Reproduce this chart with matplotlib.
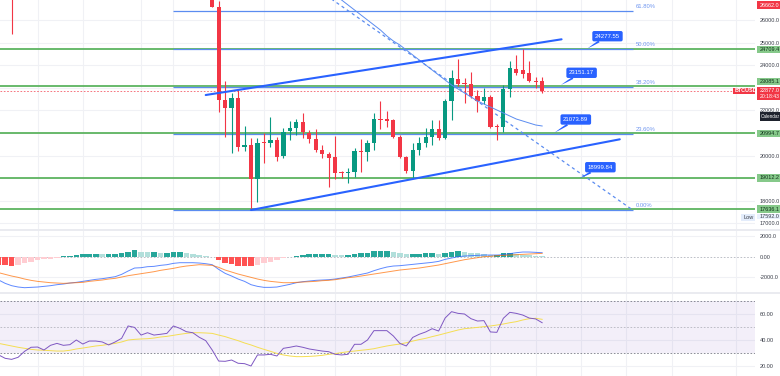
import numpy as np
import matplotlib
matplotlib.use('Agg')
import matplotlib.pyplot as plt
import matplotlib.transforms as mtransforms
from matplotlib.patches import Rectangle
from matplotlib.ticker import FormatStrFormatter

plt.rcParams['font.family'] = ['Liberation Sans', 'DejaVu Sans']

W, H = 780, 376

# ---- BTCUSD daily, day 0 = 12 Jun 2022 (first bar = day -33) ----
first_day = -33
opens = [30080, 31017, 29100, 29050, 29300, 30100, 31300, 29870, 30420, 28700, 30290, 29180, 29430,
         30280, 29100, 29650, 29540, 29200, 28620, 29020, 29450, 31720, 31790, 29800, 30450, 29700,
         29860, 29900, 31370, 31130, 30200, 30110, 29090,
         28400, 26590, 22470, 22100, 22540, 20390, 20450, 18955, 20560, 20545, 20690, 19975, 21100,
         21230, 21475, 20985, 20735, 20240, 20070, 19950, 19240, 19230, 19275, 20215, 20170, 20545,
         21625, 21600, 21580, 20840, 19920, 19330, 20240, 20570, 20820, 21170, 20770, 22430, 23380,
         23190, 23155, 22640, 22430, 22580, 21285, 21260, 22950, 23820, 23790, 23670, 23305, 23305]
highs = [32650, 32140, 30030, 30990, 30300, 31400, 31320, 31000, 30680, 30500, 30750, 29600, 30450,
         30650, 29800, 30200, 29850, 29380, 29200, 29520, 32200, 32400, 31950, 30650, 30650, 29950,
         30150, 31826, 31560, 31330, 30700, 30380, 29440,
         28550, 26860, 23310, 22770, 22940, 21315, 20770, 20770, 21015, 21700, 20840, 21210, 21530,
         21610, 21875, 21135, 21160, 20470, 20170, 20870, 19330, 19440, 20320, 20720, 20690, 21875,
         22420, 21990, 21640, 20930, 19970, 20570, 20840, 21210, 21580, 21580, 22490, 23790, 24277.55,
         23425, 23715, 22905, 23010, 22660, 21400, 23130, 24190, 24455, 24700, 24205, 23470, 23470]
lows = [29730, 27700, 25400, 28700, 28650, 29500, 29100, 29500, 28650, 28650, 28740, 28950, 29250,
        28900, 28650, 29300, 28000, 28260, 28550, 28840, 29300, 31250, 29300, 29600, 29300, 29500,
        29500, 29850, 29250, 29850, 29950, 28850, 28100,
        26560, 21950, 20840, 20100, 20220, 20220, 17592, 17955, 19665, 20395, 19770, 19880, 20690,
        20915, 20770, 20540, 20170, 19880, 18600, 18955, 19000, 18775, 19040, 19290, 19775, 20240,
        21165, 21285, 20790, 19880, 19210, 19000, 20025, 20395, 20470, 20690, 20750, 21580, 23080,
        22340, 22535, 21950, 22270, 21235, 20690, 21060, 22610, 23550, 23425, 23270, 22980, 22780]
closes = [31017, 29100, 29050, 29300, 30100, 31300, 29870, 30420, 28700, 30290, 29180, 29430, 30280,
          29100, 29650, 29540, 29200, 28620, 29020, 29450, 31720, 31790, 29800, 30450, 29700, 29860,
          29900, 31370, 31130, 30200, 30110, 29090, 28400,
          26590, 22470, 22100, 22540, 20390, 20450, 18955, 20545, 20540, 20690, 19945, 21060, 21210,
          21475, 21030, 20720, 20240, 20070, 19900, 19240, 19215, 19275, 20215, 20170, 20570, 21625,
          21580, 21545, 20840, 19920, 19330, 20240, 20570, 20840, 21195, 20770, 22430, 23425, 23155,
          23155, 22640, 22430, 22580, 21285, 21255, 22950, 23865, 23640, 23610, 23315, 23270, 22877]

# moving average drawn on price (days 19..51)
ma_first_day = 19
ma_values = [27100, 26885, 26664, 26443, 26221, 26000, 25779, 25558, 25292, 25071, 24894, 24673,
             24451, 24230, 24009, 23788, 23566, 23345, 23124, 22947, 22770, 22593, 22416, 22283,
             22150, 22018, 21885, 21752, 21619, 21531, 21442, 21354, 21310]

# MACD (12, 26, 9)
macd_line = [-2254, -2576, -2801, -2930, -2995, -2962, -2930, -2866, -2801, -2705, -2640, -2544, -2479,
             -2383, -2286, -2190, -2125, -2029, -1932, -1707, -1385, -1095, -1063, -966, -934, -837,
             -773, -644, -580, -580, -580, -612, -676,
             -773, -1224, -1610, -1868, -2157, -2383, -2705, -2866, -2962, -2962, -2930, -2801, -2673,
             -2512, -2415, -2351, -2286, -2254, -2222, -2157, -2061, -1964, -1835, -1707, -1578, -1352,
             -1159, -998, -902, -869, -805, -741, -676, -612, -547, -451, -258, -129, 0,
             64, 97, 129, 161, 161, 161, 193, 290, 386, 451, 451, 419, 386]
signal_line = [-1546, -1707, -1868, -1996, -2157, -2286, -2383, -2447, -2512, -2544, -2576, -2544, -2512,
               -2479, -2383, -2318, -2254, -2157, -2093, -1964, -1835, -1739, -1642, -1546, -1449, -1320,
               -1224, -1127, -998, -902, -837, -773, -805,
               -837, -1030, -1288, -1481, -1674, -1835, -1996, -2157, -2286, -2383, -2447, -2512, -2512,
               -2479, -2447, -2415, -2383, -2318, -2286, -2222, -2125, -2029, -1964, -1868, -1771, -1674,
               -1578, -1481, -1385, -1288, -1224, -1159, -1095, -998, -902, -805, -676, -547, -419,
               -290, -193, -97, 0, 32, 97, 129, 161, 193, 225, 258, 290, 322]
macd_hist = [-805, -837, -902, -805, -644, -483, -322, -225, -193, -97, 32, 97, 193,
             225, 258, 258, 225, 258, 258, 386, 483, 644, 483, 419, 419, 386,
             386, 419, 451, 322, 258, 193, 64,
             -64, -322, -644, -741, -902, -920, -935, -773, -644, -483, -322, -161, -64,
             64, 193, 225, 225, 225, 225, 161, 129, 193, 258, 322, 386, 515,
             547, 547, 483, 386, 258, 258, 270, 322, 322, 258, 386, 483, 547,
             451, 386, 322, 258, 193, 193, 322, 322, 258, 161, 129, 97, 64]

# RSI (14) and its moving average
rsi = [28.5, 25.9, 25.1, 26.7, 31.3, 34.4, 34.6, 32.3, 35.9, 37.4, 35.9, 36.4, 40.0, 36.9, 39.2, 39.2,
       38.5, 36.2, 38.5, 41.3, 50.8, 49.7, 43.8, 45.6, 43.8, 44.4, 45.1, 50.8, 49.0, 46.4, 45.6, 42.1, 39.5,
       32.3, 23.8, 23.6, 24.6, 22.1, 21.8, 20.0, 28.5, 28.5, 29.0, 27.7, 33.6, 34.4, 35.4, 34.4, 33.1,
       32.3, 31.5, 31.0, 29.0, 28.5, 29.0, 36.7, 36.7, 40.0, 47.2, 47.2, 47.2, 43.1, 37.4, 35.4, 42.0,
       44.4, 46.2, 48.7, 46.9, 56.9, 61.8, 60.5, 60.0, 56.4, 54.6, 54.9, 46.2, 45.9, 56.7, 61.3, 60.5,
       59.2, 56.9, 56.2, 53.3]
rsi_ma = [37.4, 36.4, 35.4, 34.4, 33.6, 32.8, 32.3, 32.1, 31.8, 31.5, 31.5, 32.1, 33.1, 33.8, 34.6, 35.4,
          35.9, 36.7, 37.4, 38.5, 40.0, 40.5, 40.8, 41.0, 41.5, 42.3, 42.8, 43.6, 44.4, 45.1, 45.6, 45.6, 45.4,
          45.1, 43.8, 42.6, 41.0, 39.5, 37.7, 36.2, 34.4, 32.8, 31.3, 29.7, 28.5, 27.7, 27.2, 27.2, 27.4,
          27.7, 28.2, 29.0, 29.5, 30.3, 31.0, 31.5, 32.1, 32.6, 33.3, 34.4, 35.4, 36.2, 36.9, 37.9, 39.2,
          40.3, 41.3, 42.6, 43.8, 45.1, 46.4, 47.7, 48.7, 49.2, 49.7, 50.3, 50.8, 51.5, 52.3, 53.3, 54.1,
          55.4, 56.4, 56.7, 55.9]

# horizontal levels, fib, drawings
levels = [24709.4, 23085.1, 20994.7, 19012.2, 17636.1]
level_tags = ['24709.4', '23085.1', '20994.7', '19012.2', '17636.1']
level_tag_shift = [0, 4.4, 0, 0, 0]
fib_high, fib_low = 31826, 17592
fib_ratios = [0.618, 0.5, 0.382, 0.236, 0.0]
fib_names = ['61.80%', '50.00%', '38.20%', '23.60%', '0.00%']
fib_days = (-6, 65)
channel_upper = ((-1, 22681), (54, 25146))
channel_lower = ((6, 17592), (63, 20721))
callouts = [('24277.55', (61.1, 25283), (58.0, 24739)),
            ('23151.17', (57.1, 23664), (53.9, 23124)),
            ('21073.89', (56.2, 21597), (52.9, 21013)),
            ('18999.84', (60.0, 19486), (56.8, 18995))]
last_price = 22877.0
week_days = [-27, -20, -11, -6, 1, 8, 19, 29, 36, 43, 50, 57, 64, 71, 81]
price_ticks = [17000, 18000, 20000, 22000, 24000, 25000, 26000]
price_grid = list(range(17000, 27000, 1000))
macd_ticks = [2000, 0, -2000]
macd_tick_labels = ['2000.0', '0.00', '-2000.0']
rsi_ticks = [60, 40, 20]

days = np.arange(first_day, first_day + len(closes))
o, h, l, c = map(np.array, (opens, highs, lows, closes))

UP, DOWN = '#089981', '#F23645'
GRID = '#F0F1F5'
TXT = '#3B3F4A'
AX_FS = 4.0

fig = plt.figure(figsize=(W / 100, H / 100), dpi=100)
fig.patch.set_facecolor('white')


def pane(top, bottom):
    return fig.add_axes([0, 1 - bottom / H, 755 / W, (bottom - top) / H])


ax = pane(0, 229)
axm = pane(231, 292)
axr = pane(294, 376)

for a in (ax, axm, axr):
    a.set_xlim(-32.8, 83.9)
    for s in a.spines.values():
        s.set_visible(False)
    a.set_xticks([])
    a.yaxis.tick_right()
    a.tick_params(axis='y', length=0, pad=3.6, labelsize=AX_FS, labelcolor=TXT)
    for d in week_days:
        a.axvline(d, color=GRID, lw=0.8, zorder=0)

ax.set_ylim(16752, 26885)
axm.set_ylim(-3411, 2483)
axr.set_ylim(12.3, 75.4)

# pane separators
for ysep in (230, 293):
    fig.add_artist(plt.Line2D([0, 1], [1 - ysep / H] * 2, color='#E6E8EE', lw=1.2))

# ---------------- price pane ----------------
ax.set_yticks(price_ticks)
ax.yaxis.set_major_formatter(FormatStrFormatter('%.1f'))
for p in price_grid:
    ax.axhline(p, color=GRID, lw=0.8, zorder=0)
for lv in levels:
    ax.axhline(lv, color='#5DB460', lw=1.3, zorder=1)

fib_prices = [fib_low + r * (fib_high - fib_low) for r in fib_ratios]
ax.hlines(fib_prices, *fib_days, color='#5B8CF0', lw=0.9, zorder=1.5)
for fp, name in zip(fib_prices, fib_names):
    ax.text(fib_days[1] + 0.5, fp + 80, name, color='#6F96F0', fontsize=4.2, va='bottom', ha='left')
ax.plot(fib_days, [fib_high, fib_low], color='#5B8CF0', lw=0.9, ls=(0, (2.5, 2.5)), zorder=1.5)

ax.axhline(last_price, color=DOWN, lw=0.6, ls=(0, (2, 2)), alpha=0.8, zorder=1)

colors = np.where(c >= o, UP, DOWN)
ax.vlines(days, l, h, color=colors, lw=0.8, zorder=3)
body_low = np.minimum(o, c)
body_h = np.maximum(np.abs(c - o), 45)
ax.bar(days, body_h, bottom=body_low, width=0.66, color=colors, zorder=3.5, linewidth=0)

ma_days = np.arange(ma_first_day, ma_first_day + len(ma_values))
ax.plot(ma_days, ma_values, color='#5B8CF0', lw=0.7, zorder=4)

for (x0, y0), (x1, y1) in (channel_upper, channel_lower):
    ax.plot([x0, x1], [y0, y1], color='#2962FF', lw=1.5, zorder=4.5, solid_capstyle='round')

for txt, (bx, by), (tx, ty) in callouts:
    ax.annotate(txt, xy=(tx, ty), xytext=(bx, by), fontsize=4.3, color='white', ha='center', va='center',
                zorder=6,
                bbox=dict(boxstyle='round,pad=0.45,rounding_size=0.3', fc='#2962FF', ec='none'),
                arrowprops=dict(arrowstyle='wedge,tail_width=0.35,shrink_factor=0.6', fc='#2962FF',
                                ec='none', shrinkA=0, shrinkB=0))


def tag(axis, val, text, fc, tc, x0=757, x1=782, up=3.6, down=3.6, dy=0, tx=None, fs=AX_FS,
        weight='normal'):
    y0, y1 = axis.get_ylim()
    pos = axis.get_position()
    vpp = (y1 - y0) / (pos.height * H)
    yc = val + dy * vpp
    tr = mtransforms.blended_transform_factory(fig.transFigure, axis.transData)
    axis.add_patch(Rectangle((x0 / W, yc - down * vpp), (x1 - x0) / W, (up + down) * vpp,
                             transform=tr, fc=fc, ec='none', clip_on=False, zorder=8))
    axis.text((tx if tx is not None else x0 + 2.5) / W, yc, text, transform=tr, color=tc, fontsize=fs,
              va='center', ha='left', clip_on=False, zorder=9, fontweight=weight)
    return vpp, tr


tag(ax, 26662.0, '26662.0', DOWN, 'white')
for lv, t, s in zip(levels, level_tags, level_tag_shift):
    tag(ax, lv, t, '#86C98A', '#10331A', dy=s)
vpp, tr = tag(ax, last_price, '22877.0', DOWN, 'white', up=3.3, down=9.5)
ax.text(759.5 / W, last_price - 6.3 * vpp, '20:18:43', transform=tr, color='white', fontsize=3.7,
        va='center', ha='left', clip_on=False, zorder=9)
tag(ax, last_price, 'BTCUSD', DOWN, 'white', x0=733, x1=755, up=3.0, down=3.0, tx=735, fs=3.9,
    weight='bold')
tag(ax, fib_low, '17592.0', '#EAF1FD', '#3B3F4A', up=2.6, down=2.6, dy=-6.7)
tag(ax, fib_low, 'Low', '#E3ECFB', '#3B3F4A', x0=741, x1=755, up=3.6, down=3.6, dy=-7.4, tx=743)

# toolbar tooltip
fig.add_artist(Rectangle((760 / W, 1 - 120.7 / H), 22 / W, 8.7 / H, transform=fig.transFigure,
                         fc='#1E222D', ec='none'))
fig.text(761 / W, 1 - 116.3 / H, 'Calendar', color='white', fontsize=3.3, va='center', ha='left')

# ---------------- MACD pane ----------------
axm.set_yticks(macd_ticks)
axm.set_yticklabels(macd_tick_labels)
for v in (2000, -2000):
    axm.axhline(v, color=GRID, lw=0.8, zorder=0)
axm.axhline(0, color='#B2B5BE', lw=0.6, ls=(0, (2, 2)), zorder=0.5)
hist = np.array(macd_hist)
prev = np.concatenate([[hist[0]], hist[:-1]])
hcol = np.where(hist >= 0, np.where(hist >= prev, '#26A69A', '#B2DFDB'),
                np.where(hist <= prev, '#FF5252', '#FFCDD2'))
axm.bar(days, hist, width=0.86, color=hcol, linewidth=0, zorder=1)
axm.plot(days, macd_line, color='#2962FF', lw=0.7, alpha=0.75, zorder=2)
axm.plot(days, signal_line, color='#FF6D00', lw=0.7, alpha=0.7, zorder=2)

# ---------------- RSI pane ----------------
axr.set_yticks(rsi_ticks)
axr.yaxis.set_major_formatter(FormatStrFormatter('%.2f'))
for v in (60, 40, 20):
    axr.axhline(v, color=GRID, lw=0.8, zorder=0)
axr.axhspan(30, 70, color='#7E57C2', alpha=0.09, lw=0, zorder=0.2)
axr.axhline(70, color='#787B86', lw=0.6, ls=(0, (2, 2)), zorder=0.5)
axr.axhline(50, color='#787B86', lw=0.6, ls=(0, (2, 2)), alpha=0.5, zorder=0.5)
axr.axhline(30, color='#787B86', lw=0.6, ls=(0, (2, 2)), zorder=0.5)
axr.plot(days, rsi_ma, color='#F5DE52', lw=0.7, zorder=1)
axr.plot(days, rsi, color='#7E57C2', lw=0.7, zorder=2)

fig.savefig('out.png', dpi=100)
